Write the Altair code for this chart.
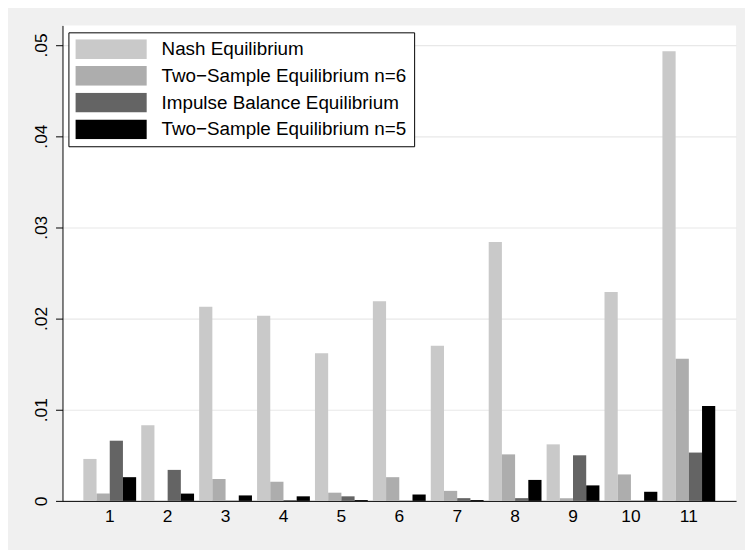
import altair as alt
import pandas as pd

categories = [str(i) for i in range(1, 12)]
series = ["Nash Equilibrium", "Two\u2212Sample Equilibrium n=6",
          "Impulse Balance Equilibrium", "Two\u2212Sample Equilibrium n=5"]
nash = [0.0046, 0.0083, 0.0213, 0.0203, 0.0162, 0.0219, 0.0170, 0.0284, 0.0062, 0.0229, 0.0493]
ts6 = [0.0008, 0.0000, 0.0024, 0.0021, 0.0009, 0.0026, 0.0011, 0.0051, 0.0003, 0.0029, 0.0156]
ibe = [0.0066, 0.0034, 0.00003, 0.0001, 0.0005, 0.00003, 0.0003, 0.0003, 0.0050, 0.00003, 0.0053]
ts5 = [0.0026, 0.0008, 0.0006, 0.0005, 0.0001, 0.0007, 0.0001, 0.0023, 0.0017, 0.0010, 0.0104]
colors = ["#c9c9c9", "#adadad", "#646464", "#000000"]
y_ticks = [0, 0.01, 0.02, 0.03, 0.04, 0.05]

rows = []
for s, vals in zip(series, [nash, ts6, ibe, ts5]):
    for c, v in zip(categories, vals):
        rows.append({"group": c, "series": s, "value": v})
df = pd.DataFrame(rows)

FONT = "Liberation Sans"

chart = alt.Chart(df).mark_bar().encode(
    x=alt.X("group:N", sort=categories,
            scale=alt.Scale(paddingInner=0.088, paddingOuter=0.36),
            axis=alt.Axis(title=None, labelAngle=0, ticks=False, labelPadding=7,
                          labelFontSize=17.5, labelFont=FONT, labelColor="black",
                          domainColor="black", domainWidth=1, grid=False)),
    xOffset=alt.XOffset("series:N", sort=series,
                        scale=alt.Scale(paddingInner=0, paddingOuter=0)),
    y=alt.Y("value:Q", scale=alt.Scale(domain=[0, 0.05214], nice=False),
            axis=alt.Axis(title=None, values=y_ticks, labelAngle=270,
                          labelAlign="center", labelBaseline="bottom",
                          labelPadding=5, tickSize=7, tickColor="black",
                          labelFontSize=17.5, labelFont=FONT, labelColor="black",
                          domainColor="black", grid=True, gridColor="#e8e8e8",
                          gridWidth=1.2,
                          labelExpr="datum.value == 0 ? '0' : replace(format(datum.value, '.2f'), '0.', '.')")),
    color=alt.Color("series:N", sort=series,
                    scale=alt.Scale(domain=series, range=colors),
                    legend=alt.Legend(title=None, orient="none", legendX=6, legendY=7,
                                      fillColor="white", strokeColor="black",
                                      padding=7, rowPadding=7, clipHeight=20,
                                      symbolType="M-1,-0.278L1,-0.278L1,0.278L-1,0.278Z",
                                      symbolSize=5184, symbolStrokeWidth=0,
                                      symbolOpacity=1, labelOffset=15,
                                      labelFontSize=19, labelFont=FONT,
                                      labelColor="black", labelLimit=400)),
).properties(
    width=680, height=480,
    autosize=alt.AutoSizeParams(type="none"),
    padding={"left": 55, "top": 15, "right": 9, "bottom": 47},
    background="#f0f0f0",
).configure_view(
    fill="white", stroke=None
)

chart.save("out.html", embed_options={"renderer": "svg", "actions": False})
